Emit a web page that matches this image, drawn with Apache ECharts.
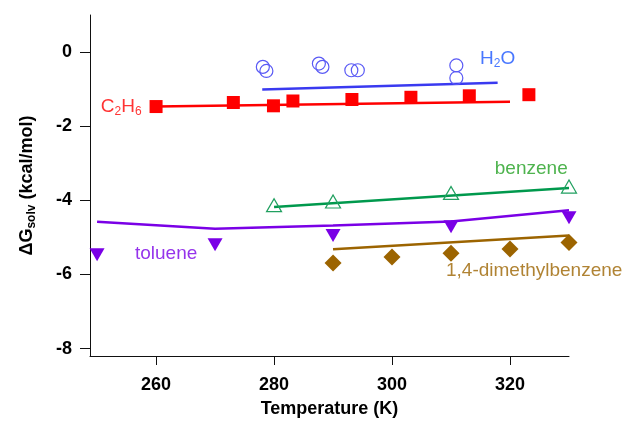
<!DOCTYPE html>
<html>
<head>
<meta charset="utf-8">
<script src="https://cdn.jsdelivr.net/npm/echarts@6/dist/echarts.min.js"></script>
<style>html,body{margin:0;padding:0;background:#fff}#c{width:626px;height:423px}</style>
</head>
<body>
<div id="c"></div>
<script>
// ---- data ----
var xTicks = [260, 280, 300, 320];
var yTicks = [0, -2, -4, -6, -8];

var h2oT = [278.1, 278.7, 287.6, 288.2, 293.1, 294.2, 310.9, 310.9];
var h2oG = [-0.40, -0.51, -0.31, -0.40, -0.49, -0.49, -0.36, -0.70];
var h2oFitT = [278.0, 317.9];
var h2oFitG = [-1.01, -0.83];

var c2h6T = [260.0, 273.1, 279.9, 283.2, 293.2, 303.2, 313.1, 323.2];
var c2h6G = [-1.47, -1.36, -1.45, -1.32, -1.28, -1.22, -1.18, -1.15];
var c2h6FitT = [260, 320];
var c2h6FitG = [-1.47, -1.34];

var benzT = [280, 290, 310, 330];
var benzG = [-4.13, -4.03, -3.80, -3.63];
var benzFitT = [280, 330];
var benzFitG = [-4.18, -3.67];

var tolT = [250, 270, 290, 310, 330];
var tolG = [-5.47, -5.20, -4.95, -4.71, -4.47];
var tolFitT = [250, 270, 290, 310, 330];
var tolFitG = [-4.58, -4.77, -4.68, -4.57, -4.27];

var dmbT = [290, 300, 310, 320, 330];
var dmbG = [-5.69, -5.53, -5.43, -5.31, -5.14];
var dmbFitT = [290, 330];
var dmbFitG = [-5.32, -4.95];

var labelNames = ['H2O', 'C2H6', 'benzene', 'toluene', 'dmb'];
var labelT = [317.9, 254.1, 323.6, 261.7, 324.1];
var labelG = [-0.17, -1.47, -3.14, -5.43, -5.91];
var labelText = ['H{s|2}O', 'C{s|2}H{s|6}', 'benzene', 'toluene', '1,4-dimethylbenzene'];

// ---- colors ----
var colors = {
  H2O: '#3a3af0', H2Omark: '#5a5af5', H2Otext: '#1a55ff',
  C2H6: '#ff0000',
  benzene: '#00994d', benzmark: '#21a060', benztext: '#22a022',
  toluene: '#7a00e6',
  dmb: '#9c6400'
};
var labelColors = [colors.H2Otext, colors.C2H6, colors.benztext, colors.toluene, colors.dmb];

function pairs(a, b) { return a.map(function (v, i) { return [v, b[i]]; }); }

var FONT = 'Liberation Sans, Arial, sans-serif';

var labelData = labelNames.map(function (n, i) {
  return {
    value: [labelT[i], labelG[i]],
    label: {
      show: true, position: 'inside', formatter: labelText[i],
      color: labelColors[i], fontSize: 19, fontFamily: FONT,
      rich: { s: { fontSize: 12, color: labelColors[i], fontFamily: FONT, verticalAlign: 'bottom', padding: [10, 0, 0, 0] } }
    }
  };
});

var chart = echarts.init(document.getElementById('c'), null, { renderer: 'canvas' });
chart.setOption({
  animation: false,
  backgroundColor: '#fff',
  grid: { left: 90, right: 57, top: 15, bottom: 65, containLabel: false },
  xAxis: {
    type: 'value', min: 248.8, max: 330,
    name: 'Temperature (K)', nameLocation: 'middle', nameGap: 44,
    nameTextStyle: { fontSize: 18, fontWeight: 'bold', color: '#000', fontFamily: FONT },
    axisLine: { show: true, onZero: false, lineStyle: { color: '#111', width: 1 } },
    axisTick: { show: true, length: 9, customValues: xTicks, lineStyle: { color: '#111' } },
    axisLabel: { customValues: xTicks, fontSize: 18, fontWeight: 'bold', color: '#000', fontFamily: FONT, margin: 20 },
    splitLine: { show: false }
  },
  yAxis: {
    type: 'value', min: -8.2, max: 1,
    name: '\u0394G{s|solv} (kcal/mol)', nameLocation: 'middle', nameGap: 52, nameRotate: 90,
    nameTextStyle: { fontSize: 18, fontWeight: 'bold', color: '#000', fontFamily: FONT,
      rich: { s: { fontSize: 12, fontWeight: 'bold', color: '#000', fontFamily: FONT, verticalAlign: 'bottom', padding: [10, 0, 0, 0] } } },
    axisLine: { show: true, onZero: false, lineStyle: { color: '#111', width: 1 } },
    axisTick: { show: true, length: 10, customValues: yTicks, lineStyle: { color: '#111' } },
    axisLabel: { customValues: yTicks, fontSize: 18, fontWeight: 'bold', color: '#000', fontFamily: FONT, margin: 18 },
    splitLine: { show: false }
  },
  series: [
    { type: 'line', data: pairs(h2oFitT, h2oFitG), symbol: 'none', lineStyle: { color: colors.H2O, width: 2.5 }, z: 2 },
    { type: 'line', data: pairs(c2h6FitT, c2h6FitG), symbol: 'none', lineStyle: { color: colors.C2H6, width: 2.5 }, z: 2 },
    { type: 'line', data: pairs(benzFitT, benzFitG), symbol: 'none', lineStyle: { color: colors.benzene, width: 2.5 }, z: 2 },
    { type: 'line', data: pairs(tolFitT, tolFitG), symbol: 'none', lineStyle: { color: colors.toluene, width: 2.5 }, z: 2 },
    { type: 'line', data: pairs(dmbFitT, dmbFitG), symbol: 'none', lineStyle: { color: colors.dmb, width: 2.5 }, z: 2 },
    { type: 'scatter', data: pairs(h2oT, h2oG), symbol: 'circle', symbolSize: 13,
      itemStyle: { color: 'rgba(0,0,0,0)', borderColor: colors.H2Omark, borderWidth: 1.2, opacity: 1 }, z: 3 },
    { type: 'scatter', data: pairs(c2h6T, c2h6G), symbol: 'rect', symbolSize: 13,
      itemStyle: { color: colors.C2H6, opacity: 1 }, z: 3 },
    { type: 'scatter', data: pairs(benzT, benzG), symbol: 'triangle', symbolSize: [15, 13],
      itemStyle: { color: 'rgba(0,0,0,0)', borderColor: colors.benzmark, borderWidth: 1.2, opacity: 1 }, z: 3 },
    { type: 'scatter', data: pairs(tolT, tolG), symbol: 'triangle', symbolRotate: 180, symbolSize: [15, 13],
      itemStyle: { color: colors.toluene, opacity: 1 }, z: 3 },
    { type: 'scatter', data: pairs(dmbT, dmbG), symbol: 'diamond', symbolSize: [17, 17],
      itemStyle: { color: colors.dmb, opacity: 1 }, z: 3 },
    { type: 'scatter', data: labelData, symbolSize: 0, silent: true, z: 4 }
  ]
});
</script>
</body>
</html>
